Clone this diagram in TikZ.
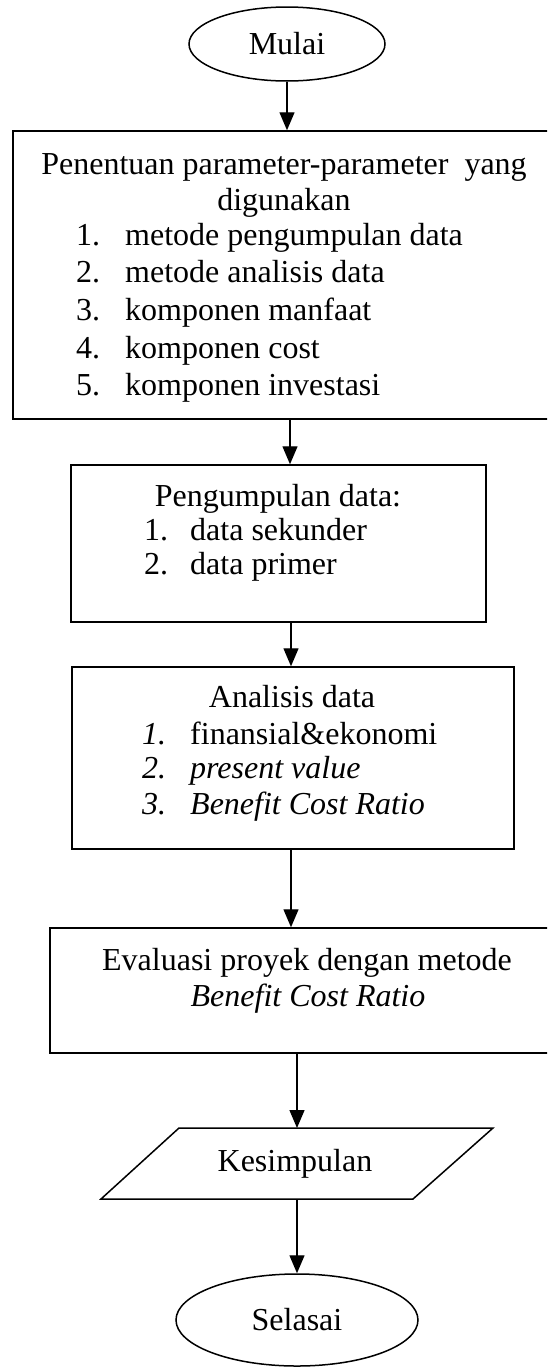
\documentclass[tikz,border=0pt]{standalone}
\usepackage{fontspec}
\setmainfont{Liberation Serif}
\usetikzlibrary{arrows.meta,shapes.geometric}
\begin{document}
\begin{tikzpicture}[x=1pt,y=-1pt,
  font=\fontsize{32}{37}\selectfont,
  box/.style={draw, line width=1.5pt, rectangle, inner sep=0pt},
  term/.style={draw, line width=1.5pt, ellipse, inner sep=0pt},
  flow/.style={line width=1.3pt, -{Triangle[length=18pt,width=15pt]}},
  txt/.style={anchor=base, inner sep=0pt},
  lft/.style={anchor=base west, inner sep=0pt}]
\useasboundingbox (0,0) rectangle (547,1368);
\clip (0,0) rectangle (547,1368);

% terminals
\node[term, minimum width=196pt, minimum height=74pt] (mulai) at (287,44) {Mulai};
\node[term, minimum width=242pt, minimum height=92pt] (sel) at (297,1320) {Selasai};

% boxes
\node[box, minimum width=547pt, minimum height=288pt] (b1) at (286.5,275) {};
\node[box, minimum width=415pt, minimum height=157pt] (b2) at (278.5,543.5) {};
\node[box, minimum width=442pt, minimum height=182pt] (b3) at (293,758) {};
\node[box, minimum width=510pt, minimum height=125pt] (b4) at (305,990.5) {};

% box 1 text
\node[txt] (t1a) at (284,174) {Penentuan parameter-parameter\ \ yang};
\node[txt] (t1b) at (284,210) {digunakan};
\node[lft] (n11) at (76,245) {1.};
\node[lft] (i11) at (125,245) {metode pengumpulan data};
\node[lft] (n12) at (76,282) {2.};
\node[lft] (i12) at (125,282) {metode analisis data};
\node[lft] (n13) at (76,320) {3.};
\node[lft] (i13) at (125,320) {komponen manfaat};
\node[lft] (n14) at (76,358) {4.};
\node[lft] (i14) at (125,358) {komponen cost};
\node[lft] (n15) at (76,395) {5.};
\node[lft] (i15) at (125,395) {komponen investasi};

% box 2 text
\node[txt] (t2a) at (278,506) {Pengumpulan data:};
\node[lft] (n21) at (144,540) {1.};
\node[lft] (i21) at (190,540) {data sekunder};
\node[lft] (n22) at (144,574) {2.};
\node[lft] (i22) at (190,574) {data primer};

% box 3 text
\node[txt] (t3a) at (292,707) {Analisis data};
\node[lft] (n31) at (142,744) {\itshape 1.};
\node[lft] (i31) at (190,744) {finansial\&ekonomi};
\node[lft] (n32) at (142,778) {\itshape 2.};
\node[lft] (i32) at (190,778) {\itshape present value};
\node[lft] (n33) at (142,814) {\itshape 3.};
\node[lft] (i33) at (190,814) {\itshape Benefit Cost Ratio};

% box 4 text
\node[txt] (t4a) at (307,970) {Evaluasi proyek dengan metode};
\node[txt] (t4b) at (308,1006) {\itshape Benefit Cost Ratio};

% parallelogram
\coordinate (pbl) at (101,1199);
\coordinate (ptl) at (179,1128);
\coordinate (ptr) at (493,1128);
\coordinate (pbr) at (413,1199);
\coordinate (ptop) at (297,1128);
\coordinate (pbot) at (297,1199);
\draw[line width=1.5pt] (pbl) -- (ptl) -- (ptr) -- (pbr) -- cycle;
\node[txt] (kes) at (295,1171) {Kesimpulan};

% connectors
\draw[flow] (mulai.south) -- (mulai.south |- b1.north);
\coordinate (c1) at (290,0);
\coordinate (c2) at (291,0);
\draw[flow] (b1.south -| c1) -- (c1 |- b2.north);
\draw[flow] (b2.south -| c2) -- (c2 |- b3.north);
\draw[flow] (b3.south -| c2) -- (c2 |- b4.north);
\draw[flow] (b4.south -| ptop) -- (ptop);
\draw[flow] (pbot) -- (sel.north);
\end{tikzpicture}
\end{document}
